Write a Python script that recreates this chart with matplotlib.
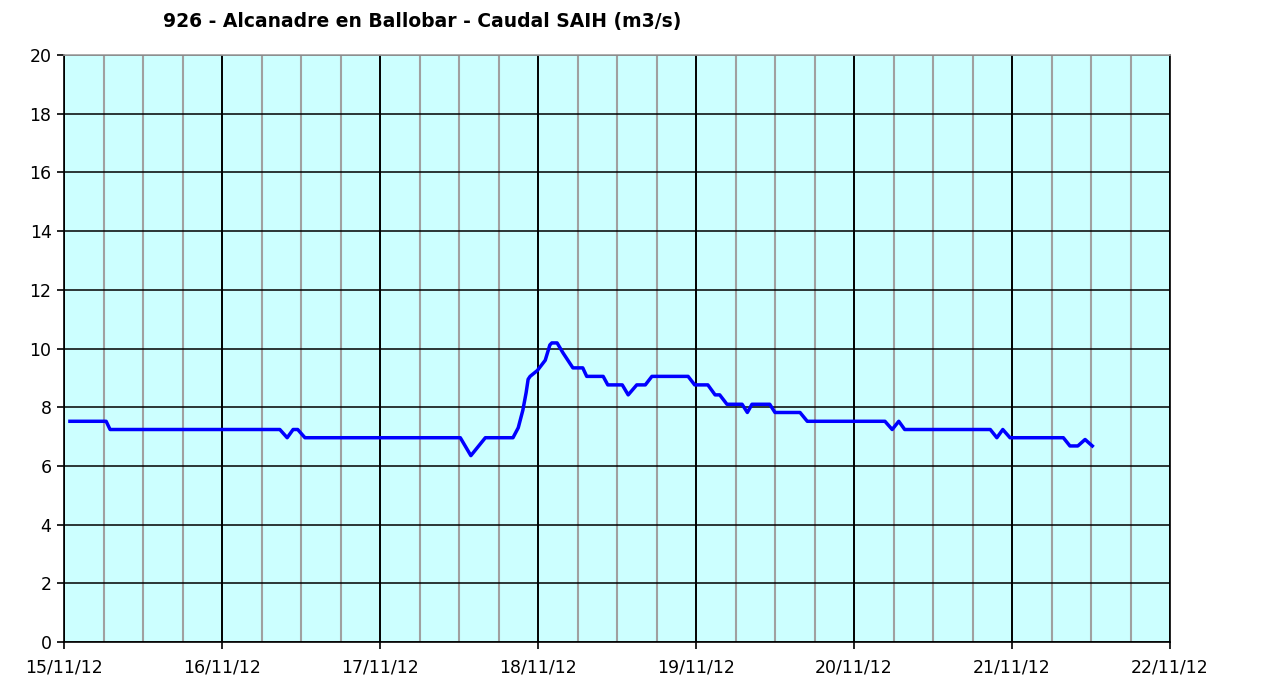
#!/usr/bin/env python3
"""Caudal SAIH - 926 Alcanadre en Ballobar."""

import matplotlib

matplotlib.use("Agg")
import matplotlib.pyplot as plt
import numpy as np

START = np.datetime64("2012-11-15T00:00")

# hours after 15/11/12 00:00
HOURS = [
    0.9, 6.4, 7.0, 32.8, 33.9, 34.8, 35.5, 36.6, 60.2, 61.8, 64.0, 68.2,
    69.0, 69.7, 70.2, 70.5, 70.8, 71.9, 73.1, 73.8, 74.1, 74.9, 75.8, 77.3,
    78.8, 79.4, 81.9, 82.6, 84.8, 85.7, 87.0, 88.3, 89.3, 94.8, 95.8, 97.8,
    98.9, 99.6, 100.7, 103.0, 103.8, 104.5, 107.2, 108.0, 111.8, 112.9,
    124.7, 125.8, 126.8, 127.7, 140.7, 141.7, 142.6, 143.7, 151.8, 152.8,
    154.0, 155.1, 156.2,
]
CAUDAL = [
    7.52, 7.52, 7.24, 7.24, 6.96, 7.24, 7.24, 6.96, 6.96, 6.35, 6.96, 6.96,
    7.30, 7.90, 8.50, 8.95, 9.05, 9.25, 9.60, 10.12, 10.19, 10.19, 9.85, 9.34,
    9.34, 9.05, 9.05, 8.76, 8.76, 8.42, 8.76, 8.76, 9.05, 9.05, 8.76, 8.76,
    8.42, 8.42, 8.10, 8.10, 7.82, 8.10, 8.10, 7.82, 7.82, 7.52,
    7.52, 7.24, 7.52, 7.24, 7.24, 6.96, 7.24, 6.96, 6.96, 6.68,
    6.68, 6.90, 6.68,
]
DAY_LABELS = ["15/11/12", "16/11/12", "17/11/12", "18/11/12",
              "19/11/12", "20/11/12", "21/11/12", "22/11/12"]
TITLE = "926 - Alcanadre en Ballobar - Caudal SAIH (m3/s)"


def to_dt(arr):
    return [d.astype("datetime64[ms]").astype(object) for d in arr]


times = START + (np.array(HOURS) * 60).astype("timedelta64[m]")
days = START + np.arange(len(DAY_LABELS)).astype("timedelta64[D]")
quarters = START + np.arange(0, 24 * 7 + 1, 6).astype("timedelta64[h]")

plt.rcParams["font.family"] = ["DejaVu Sans"]
fig = plt.figure(figsize=(12.65, 6.84), dpi=100)
ax = fig.add_axes([64 / 1265, 42 / 684, 1106 / 1265, 587 / 684])
ax.set_facecolor("#ccffff")

ax.plot(to_dt(times), CAUDAL, color="#0000ff", linewidth=2.5, zorder=3,
        solid_joinstyle="round")

ax.set_xlim(to_dt(days)[0], to_dt(days)[-1])
ax.set_ylim(0, 20)

ax.set_xticks(to_dt(days))
ax.set_xticklabels(DAY_LABELS)
ax.set_xticks(to_dt(quarters), minor=True)
ax.set_yticks(np.arange(0, 21, 2))

ax.grid(True, which="minor", axis="x", color="#a0a0a0", linewidth=1.5, zorder=1)
ax.grid(True, which="major", axis="x", color="black", linewidth=1.4, zorder=2)
ax.grid(True, which="major", axis="y", color="black", linewidth=1.1, zorder=2)
ax.set_axisbelow(True)

ax.tick_params(axis="both", which="major", labelsize=12.5, length=5,
               width=1.2, color="black", pad=7)
ax.tick_params(axis="x", which="minor", length=0)
ax.tick_params(axis="y", pad=4)
for spine in ax.spines.values():
    spine.set_linewidth(1.2)
ax.spines["top"].set_color("#a0a0a0")

fig.text(422 / 1265, 1 - 22 / 684, TITLE, ha="center", va="center",
         fontsize=13.5, fontweight="bold")

fig.savefig("out.png", dpi=100, facecolor="white")
